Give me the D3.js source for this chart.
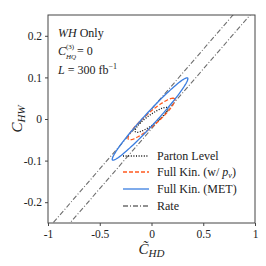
<!DOCTYPE html>
<html>
<head>
<meta charset="utf-8">
<script src="https://cdn.jsdelivr.net/npm/d3@7"></script>
<style>
  body { margin: 0; background: #fff; }
  svg { display: block; }
  text { font-family: "Liberation Serif", "DejaVu Serif", serif; fill: #222; }
</style>
</head>
<body>
<script>
// Axis ticks
var xTicks = [-1, -0.5, 0, 0.5, 1];
var yTicks = [-0.2, -0.1, 0, 0.1, 0.2];

// Rate band: y = slope * x + offset (two edges)
var rateSlope   = 0.2875;
var rateOffsets = [0.0237, -0.0237];

// Contour ellipses: center, tip vector and half-width along x
var contourNames = ["Parton Level", "Full Kin. (w/ p_nu)", "Full Kin. (MET)"];
var contourCenter = [[0.0, -0.002], [0.0, 0.0], [-0.014, 0.0]];
var contourTip    = [[0.14, 0.03], [0.208, 0.05], [0.357, 0.099]];
var contourHalfX  = [0.075, 0.09, 0.078];

var legendLabels = ["Parton Level", "Full Kin. (w/ ", "Full Kin. (MET)", "Rate"];

var W = 266, H = 266;
var margin = {left: 48, top: 15, right: 11, bottom: 43};

var svg = d3.select("body").append("svg").attr("width", W).attr("height", H);

var x = d3.scaleLinear().domain([-1, 1]).range([margin.left, W - margin.right]);
var y = d3.scaleLinear().domain([-0.25, 0.25]).range([H - margin.bottom, margin.top]);

svg.append("clipPath").attr("id", "clip").append("rect")
  .attr("x", x(-1)).attr("y", y(0.25))
  .attr("width", x(1) - x(-1)).attr("height", y(-0.25) - y(0.25));

var plot = svg.append("g").attr("clip-path", "url(#clip)");

// Rate lines
rateOffsets.forEach(function(off){
  plot.append("line")
    .attr("x1", x(-1.2)).attr("y1", y(rateSlope * -1.2 + off))
    .attr("x2", x(1.2)).attr("y2", y(rateSlope * 1.2 + off))
    .attr("stroke", "#6e6e6e").attr("stroke-width", 1.1)
    .attr("stroke-dasharray", "5,2,1,2");
});

var styles = [
  {stroke: "#111", width: 1.3, dash: "1,1.6"},
  {stroke: "#ff5a1f", width: 1.3, dash: "4,2"},
  {stroke: "#3a7de0", width: 1.3, dash: null}
];

var line = d3.line().x(function(d){ return x(d[0]); }).y(function(d){ return y(d[1]); }).curve(d3.curveLinearClosed);

[0, 1, 2].forEach(function(i){
  var c = contourCenter[i], t = contourTip[i], hx = contourHalfX[i];
  var pts = d3.range(0, 360, 3).map(function(a){
    var r = a * Math.PI / 180;
    return [c[0] + t[0] * Math.cos(r) + hx * Math.sin(r), c[1] + t[1] * Math.cos(r)];
  });
  var p = plot.append("path").attr("d", line(pts))
    .attr("fill", "none").attr("stroke", styles[i].stroke)
    .attr("stroke-width", styles[i].width);
  if(styles[i].dash) p.attr("stroke-dasharray", styles[i].dash);
});

// Frame
svg.append("rect")
  .attr("x", x(-1)).attr("y", y(0.25))
  .attr("width", x(1) - x(-1)).attr("height", y(-0.25) - y(0.25))
  .attr("fill", "none").attr("stroke", "#444").attr("stroke-width", 1);

// Axes
var fmt = function(d){ return d === 0 ? "0" : String(d); };
var xAxis = svg.append("g").attr("transform", "translate(0," + y(-0.25) + ")")
  .call(d3.axisBottom(x).tickValues(xTicks).tickSize(3).tickPadding(4).tickFormat(fmt));
var yAxis = svg.append("g").attr("transform", "translate(" + x(-1) + ",0)")
  .call(d3.axisLeft(y).tickValues(yTicks).tickSize(3).tickPadding(3).tickFormat(fmt));
[xAxis, yAxis].forEach(function(a){
  a.select(".domain").remove();
  a.selectAll(".tick line").attr("stroke", "#444");
  a.selectAll(".tick text").attr("font-size", 11.5).attr("fill", "#222")
    .style("font-family", "'Liberation Serif', serif");
});

// Axis titles
var xl = svg.append("text").attr("x", x(0)).attr("y", 254).attr("text-anchor", "middle")
  .attr("font-size", 15).attr("font-style", "italic");
xl.append("tspan").text("C\u0303");
xl.append("tspan").attr("font-size", 11).attr("dy", 3).text("HD");

var yl = svg.append("text").attr("transform", "translate(22," + y(0) + ") rotate(-90)")
  .attr("text-anchor", "middle").attr("font-size", 15).attr("font-style", "italic");
yl.append("tspan").text("C");
yl.append("tspan").attr("font-size", 11).attr("dy", 3).text("HW");

// Annotation
var ann = svg.append("g").attr("font-size", 12);
var a1 = ann.append("text").attr("x", 58).attr("y", 37);
a1.append("tspan").attr("font-style", "italic").text("WH");
a1.append("tspan").text(" Only");
ann.append("text").attr("x", 58).attr("y", 55).attr("font-style", "italic").text("C");
ann.append("text").attr("x", 66).attr("y", 49).attr("font-size", 7).text("(3)");
ann.append("text").attr("x", 66).attr("y", 59).attr("font-size", 7).attr("font-style", "italic").text("HQ");
ann.append("text").attr("x", 77).attr("y", 55).text("= 0");
var a3 = ann.append("text").attr("x", 58).attr("y", 74);
a3.append("tspan").attr("font-style", "italic").text("L");
a3.append("tspan").text(" = 300 fb");
a3.append("tspan").attr("font-size", 8).attr("dy", -5).text("\u22121");

// Legend
var legY = [156, 172, 189, 206];
var legStyles = [styles[0], styles[1], styles[2], {stroke: "#6e6e6e", width: 1.3, dash: "5,2,1,2"}];
legY.forEach(function(ly, i){
  var l = svg.append("line").attr("x1", 123).attr("x2", 149).attr("y1", ly).attr("y2", ly)
    .attr("stroke", legStyles[i].stroke).attr("stroke-width", legStyles[i].width);
  if(legStyles[i].dash) l.attr("stroke-dasharray", legStyles[i].dash);
  var t = svg.append("text").attr("x", 157).attr("y", ly + 4).attr("font-size", 12);
  t.append("tspan").text(legendLabels[i]);
  if(i === 1){
    t.append("tspan").attr("font-style", "italic").text("p");
    t.append("tspan").attr("font-style", "italic").attr("font-size", 8).attr("dy", 2).text("\u03bd");
    t.append("tspan").attr("dy", -2).text(")");
  }
});
</script>
</body>
</html>
